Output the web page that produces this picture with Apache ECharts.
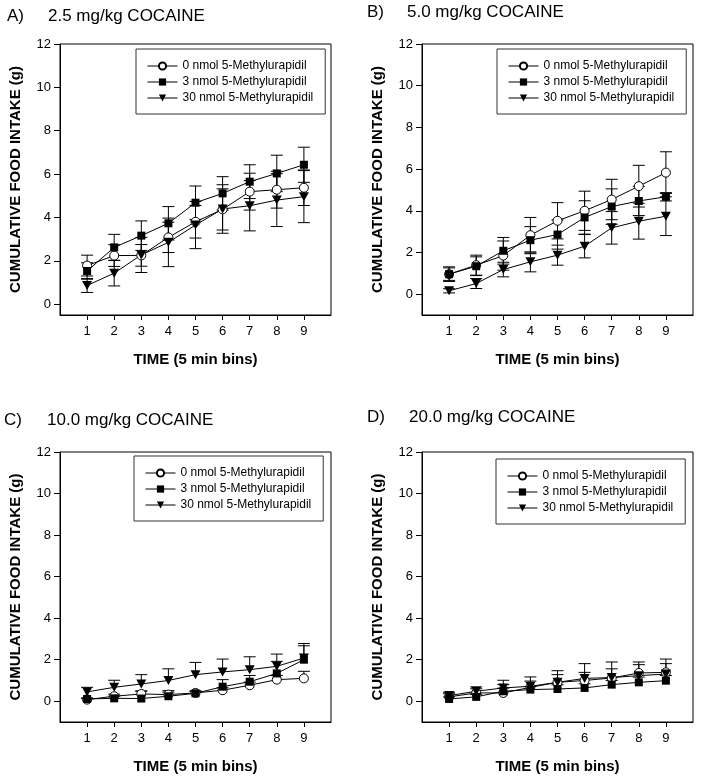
<!DOCTYPE html>
<html>
<head>
<meta charset="utf-8">
<script src="https://cdn.jsdelivr.net/npm/echarts@6/dist/echarts.min.js"></script>
<style>html,body{margin:0;padding:0;background:#fff;}#chart{width:704px;height:779px;}</style>
</head>
<body>
<div id="chart"></div>
<script>
// ---------- data ----------
const timeBins = [1, 2, 3, 4, 5, 6, 7, 8, 9];
const xTickLabels = [1, 2, 3, 4, 5, 6, 7, 8, 9];
const yTickLabels = [0, 2, 4, 6, 8, 10, 12];
const seriesNames = ['0 nmol 5-Methylurapidil', '3 nmol 5-Methylurapidil', '30 nmol 5-Methylurapidil'];
const panelLetters = ['A)', 'B)', 'C)', 'D)'];
const panelTitles = ['2.5 mg/kg COCAINE', '5.0 mg/kg COCAINE', '10.0 mg/kg COCAINE', '20.0 mg/kg COCAINE'];
const xAxisTitle = 'TIME (5 min bins)';
const yAxisTitle = 'CUMULATIVE FOOD INTAKE (g)';

// Panel A: 2.5 mg/kg
const a0 = [1.78, 2.24, 2.25, 3.08, 3.80, 4.37, 5.19, 5.28, 5.37];
const a0Err = [0.48, 0.50, 0.50, 0.70, 0.75, 0.95, 0.85, 0.85, 0.82];
const a3 = [1.53, 2.62, 3.16, 3.73, 4.68, 5.11, 5.65, 6.03, 6.43];
const a3Err = [0.38, 0.60, 0.68, 0.77, 0.77, 0.77, 0.78, 0.84, 0.81];
const a30 = [0.86, 1.43, 2.27, 2.85, 3.65, 4.39, 4.54, 4.80, 4.96];
const a30Err = [0.32, 0.59, 0.81, 1.12, 1.09, 1.12, 1.16, 1.22, 1.20];

// Panel B: 5.0 mg/kg
const b0 = [0.96, 1.39, 1.85, 2.83, 3.52, 4.00, 4.54, 5.18, 5.83];
const b0Err = [0.35, 0.48, 0.70, 0.85, 0.87, 0.94, 0.97, 1.00, 1.00];
const b3 = [0.96, 1.34, 2.08, 2.59, 2.86, 3.68, 4.20, 4.47, 4.67];
const b3Err = [0.30, 0.45, 0.64, 0.65, 0.70, 0.80, 0.85, 0.70, 0.20];
const b30 = [0.16, 0.51, 1.18, 1.55, 1.87, 2.30, 3.18, 3.50, 3.74];
const b30Err = [0.10, 0.24, 0.35, 0.48, 0.48, 0.56, 0.78, 0.86, 0.93];

// Panel C: 10.0 mg/kg
const c0 = [0.08, 0.24, 0.35, 0.32, 0.40, 0.53, 0.77, 1.04, 1.10];
const c0Err = [0.05, 0.10, 0.15, 0.12, 0.10, 0.12, 0.15, 0.20, 0.34];
const c3 = [0.11, 0.14, 0.13, 0.24, 0.38, 0.70, 0.94, 1.34, 2.00];
const c3Err = [0.05, 0.10, 0.35, 0.27, 0.10, 0.34, 0.30, 0.58, 0.67];
const c30 = [0.45, 0.67, 0.83, 1.00, 1.28, 1.41, 1.52, 1.68, 2.08];
const c30Err = [0.22, 0.34, 0.45, 0.56, 0.59, 0.62, 0.62, 0.59, 0.70];

// Panel D: 20.0 mg/kg
const d0 = [0.21, 0.40, 0.40, 0.67, 0.91, 1.00, 1.12, 1.36, 1.39];
const d0Err = [0.15, 0.20, 0.40, 0.30, 0.37, 0.39, 0.44, 0.53, 0.64];
const d3 = [0.11, 0.21, 0.48, 0.56, 0.59, 0.64, 0.80, 0.91, 0.99];
const d3Err = [0.10, 0.12, 0.15, 0.15, 0.20, 0.20, 0.20, 0.25, 0.25];
const d30 = [0.27, 0.48, 0.64, 0.72, 0.91, 1.10, 1.14, 1.23, 1.31];
const d30Err = [0.16, 0.21, 0.37, 0.45, 0.56, 0.71, 0.75, 0.53, 0.50];

// ---------- layout ----------
const FONT = '"Liberation Sans", Arial, sans-serif';
const panels = [
  { means: [a0, a3, a30], errs: [a0Err, a3Err, a30Err], yMin: -0.5, upperOnly: false,
    grid: { left: 60, top: 44, width: 271, height: 271 },
    legend: { left: 136, top: 49 },
    title: { lx: 7, tx: 48, y: 16 } },
  { means: [b0, b3, b30], errs: [b0Err, b3Err, b30Err], yMin: -1, upperOnly: false,
    grid: { left: 422, top: 44, width: 271, height: 271 },
    legend: { left: 497, top: 49 },
    title: { lx: 367, tx: 407, y: 12 } },
  { means: [c0, c3, c30], errs: [c0Err, c3Err, c30Err], yMin: -1, upperOnly: true,
    grid: { left: 60, top: 452, width: 271, height: 270 },
    legend: { left: 134, top: 456 },
    title: { lx: 4, tx: 47, y: 420 } },
  { means: [d0, d3, d30], errs: [d0Err, d3Err, d30Err], yMin: -1, upperOnly: true,
    grid: { left: 422, top: 452, width: 271, height: 270 },
    legend: { left: 496, top: 459 },
    title: { lx: 367, tx: 409, y: 417 } }
];

const symbolDefs = [
  { symbol: 'circle', size: 9, rotate: 0, itemStyle: { color: '#fff', borderColor: '#000', borderWidth: 1 } },
  { symbol: 'rect', size: 8, rotate: 0, itemStyle: { color: '#000', borderColor: '#000', borderWidth: 0 } },
  { symbol: 'triangle', size: [10, 9], rotate: 180, itemStyle: { color: '#000', borderColor: '#000', borderWidth: 0 } }
];

const grids = [], xAxes = [], yAxes = [], series = [], legends = [], graphics = [];

function errorRenderer(upperOnly) {
  return function (params, api) {
    const x = api.value(0), y = api.value(1), e = api.value(2);
    const top = api.coord([x, y + e]);
    const bot = api.coord([x, upperOnly ? y : y - e]);
    const hw = 6;
    const style = { stroke: '#000', lineWidth: 1 };
    const children = [
      { type: 'line', shape: { x1: top[0], y1: top[1], x2: bot[0], y2: bot[1] }, style: style },
      { type: 'line', shape: { x1: top[0] - hw, y1: top[1], x2: top[0] + hw, y2: top[1] }, style: style }
    ];
    if (!upperOnly) {
      children.push({ type: 'line', shape: { x1: bot[0] - hw, y1: bot[1], x2: bot[0] + hw, y2: bot[1] }, style: style });
    }
    return { type: 'group', children: children };
  };
}

panels.forEach(function (p, gi) {
  grids.push(Object.assign({ show: true, borderColor: '#000', borderWidth: 1, backgroundColor: 'transparent' }, p.grid));
  xAxes.push({
    type: 'value', gridIndex: gi, min: 0, max: 10,
    name: xAxisTitle, nameLocation: 'middle', nameGap: 37,
    nameTextStyle: { fontFamily: FONT, fontSize: 15, fontWeight: 'bold', color: '#000' },
    axisLine: { show: true, onZero: false, lineStyle: { color: '#000', width: 1 } },
    axisTick: { show: true, length: 5, customValues: timeBins, lineStyle: { color: '#000' } },
    axisLabel: { show: true, customValues: xTickLabels, margin: 10, fontFamily: FONT, fontSize: 13, color: '#000' },
    splitLine: { show: false }
  });
  yAxes.push({
    type: 'value', gridIndex: gi, min: p.yMin, max: 12,
    name: yAxisTitle, nameLocation: 'middle', nameGap: 37, nameRotate: 90,
    nameTextStyle: { fontFamily: FONT, fontSize: 15, fontWeight: 'bold', color: '#000' },
    axisLine: { show: true, onZero: false, lineStyle: { color: '#000', width: 1 } },
    axisTick: { show: true, length: 6, customValues: yTickLabels, lineStyle: { color: '#000' } },
    axisLabel: { show: true, customValues: yTickLabels, margin: 9, fontFamily: FONT, fontSize: 13, color: '#000' },
    splitLine: { show: false }
  });
  p.means.forEach(function (vals, si) {
    series.push({
      type: 'custom', xAxisIndex: gi, yAxisIndex: gi, z: 1,
      renderItem: errorRenderer(p.upperOnly), silent: true,
      data: timeBins.map(function (t, i) { return [t, vals[i], p.errs[si][i]]; })
    });
  });
  p.means.forEach(function (vals, si) {
    const sd = symbolDefs[si];
    series.push({
      type: 'line', name: seriesNames[si], xAxisIndex: gi, yAxisIndex: gi, z: 3,
      symbol: sd.symbol, symbolSize: sd.size, symbolRotate: sd.rotate, showAllSymbol: true,
      lineStyle: { color: '#000', width: 1 }, itemStyle: sd.itemStyle,
      emphasis: { disabled: true }, animation: false,
      data: timeBins.map(function (t, i) { return [t, vals[i]]; })
    });
  });
  legends.push({
    data: seriesNames, orient: 'vertical', left: p.legend.left, top: p.legend.top,
    padding: [10, 12, 9, 11], itemWidth: 30, itemHeight: 9, itemGap: 2,
    borderColor: '#333', borderWidth: 1, backgroundColor: '#fff',
    lineStyle: { width: 1, color: '#000' },
    textStyle: { fontFamily: FONT, fontSize: 12, color: '#000', lineHeight: 14 },
    selectedMode: false
  });
  graphics.push({ type: 'text', x: p.title.lx, y: p.title.y,
    style: { text: panelLetters[gi], font: '17px ' + FONT, fill: '#000', verticalAlign: 'middle' } });
  graphics.push({ type: 'text', x: p.title.tx, y: p.title.y,
    style: { text: panelTitles[gi], font: '17px ' + FONT, fill: '#000', verticalAlign: 'middle' } });
});

const chart = echarts.init(document.getElementById('chart'), null, { renderer: 'canvas' });
chart.setOption({
  backgroundColor: '#fff',
  animation: false,
  grid: grids, xAxis: xAxes, yAxis: yAxes,
  legend: legends, series: series, graphic: graphics
});
</script>
</body>
</html>
